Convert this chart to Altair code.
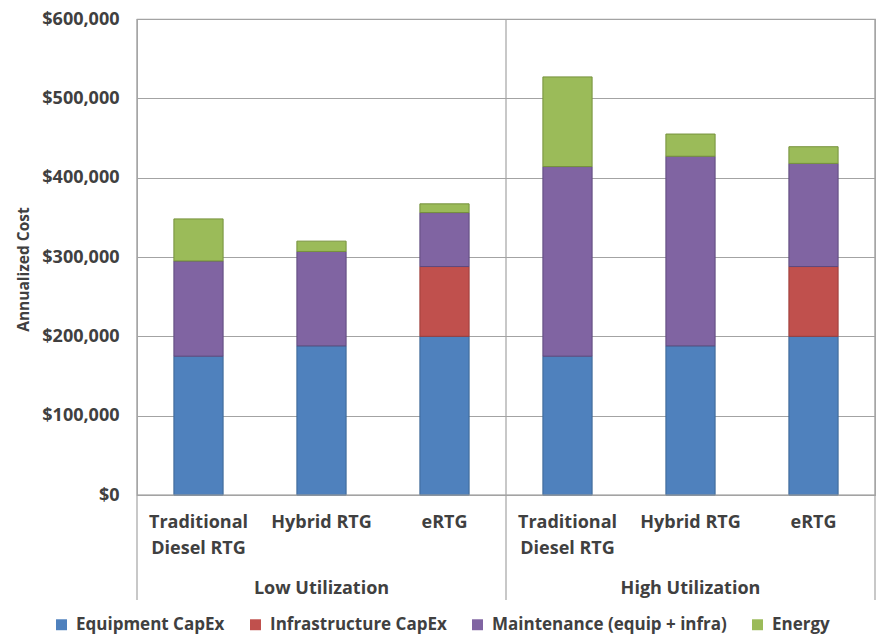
import altair as alt
import pandas as pd

groups = ["Low Utilization", "High Utilization"]
categories = ["Traditional Diesel RTG", "Hybrid RTG", "eRTG"]
series = ["Equipment CapEx", "Infrastructure CapEx", "Maintenance (equip + infra)", "Energy"]
colors = ["#4F81BD", "#C0504D", "#8064A2", "#9BBB59"]
edge_colors = ["#3C6796", "#9C3D3A", "#5F4A7E", "#76923C"]

# values per series, order: Low (Trad, Hybrid, eRTG), High (Trad, Hybrid, eRTG)
equipment = [175000, 188000, 200000, 175000, 188000, 200000]
infrastructure = [0, 0, 88000, 0, 0, 88000]
maintenance = [120000, 119000, 68000, 239000, 239000, 130000]
energy = [53000, 13000, 11000, 113000, 28000, 21000]
y_ticks = [0, 100000, 200000, 300000, 400000, 500000, 600000]

keys = [f"{g} · {c}" for g in groups for c in categories]
rows = []
for si, (s, vals) in enumerate(zip(series, [equipment, infrastructure, maintenance, energy])):
    for k, v in zip(keys, vals):
        rows.append({"key": k, "series": s, "order": si, "value": v})
df = pd.DataFrame(rows)

grp_df = pd.DataFrame({"key": [f"{g} · {categories[1]}" for g in groups], "label": groups})
left_edges = pd.DataFrame({"key": [keys[0], keys[3]]})
right_edge = pd.DataFrame({"key": [keys[-1]]})

FONT = "Open Sans"
TXT = "#404040"
GRID = "#A3A3A3"

label_expr = ("split(datum.value, ' · ')[1] == 'Traditional Diesel RTG' ? "
              "['Traditional', 'Diesel RTG'] : split(datum.value, ' · ')[1]")

xscale = alt.Scale(domain=keys, paddingInner=0, paddingOuter=0)

bars = alt.Chart(df).transform_filter("datum.value > 0").mark_bar(
    width={"band": 0.4}, strokeWidth=1
).encode(
    x=alt.X("key:N", scale=xscale, sort=keys, title=None,
            axis=alt.Axis(labelExpr=label_expr, labelAngle=0, labelFont=FONT,
                          labelFontWeight="bold", labelFontSize=18, labelColor=TXT,
                          labelLineHeight=26, labelPadding=18, ticks=False,
                          domain=False, labelBaseline="top")),
    y=alt.Y("value:Q", stack="zero", title="Annualized Cost",
            scale=alt.Scale(domain=[0, 600000]),
            axis=alt.Axis(values=y_ticks, format="$,.0f", labelFont=FONT,
                          labelFontWeight="bold", labelFontSize=18, labelColor=TXT,
                          ticks=False, domain=False, labelPadding=18,
                          grid=True, gridColor=GRID, gridWidth=1.2,
                          titleFont=FONT, titleFontWeight="bold", titleFontSize=15.5,
                          titleColor=TXT, titlePadding=10, titleY=250)),
    color=alt.Color("series:N", scale=alt.Scale(domain=series, range=colors),
                    legend=alt.Legend(title=None, orient="none", legendX=-84, legendY=597,
                                      direction="horizontal", symbolType="square",
                                      symbolSize=120, symbolStrokeWidth=0,
                                      labelFont=FONT, labelFontWeight="bold",
                                      labelFontSize=17, labelColor=TXT, labelLimit=0,
                                      columnPadding=22, labelOffset=6)),
    stroke=alt.Stroke("series:N", scale=alt.Scale(domain=series, range=edge_colors), legend=None),
    order=alt.Order("order:Q", sort="ascending"),
)

group_text = alt.Chart(grp_df).mark_text(
    font=FONT, fontWeight="bold", fontSize=18, color=TXT, baseline="middle", align="center"
).encode(
    x=alt.X("key:N", scale=xscale, sort=keys),
    y=alt.value(570),
    text="label:N",
)

rule_left = alt.Chart(left_edges).mark_rule(color=GRID, strokeWidth=1.2).encode(
    x=alt.X("key:N", scale=xscale, sort=keys, bandPosition=0),
    y=alt.value(0), y2=alt.value(581),
)
rule_right = alt.Chart(right_edge).mark_rule(color=GRID, strokeWidth=1.2).encode(
    x=alt.X("key:N", scale=xscale, sort=keys, bandPosition=1),
    y=alt.value(0), y2=alt.value(581),
)
bottom_rule = alt.Chart(left_edges.head(1)).mark_rule(color=GRID, strokeWidth=1.2).encode(
    y=alt.datum(0), x=alt.value(0), x2=alt.value(738),
)

chart = alt.layer(bars, rule_left, rule_right, bottom_rule, group_text).properties(
    width=738, height=476,
    autosize=alt.AutoSizeParams(type="none"),
    padding={"left": 137, "top": 19, "right": 4, "bottom": 141},
    background="white",
).configure_view(stroke=GRID, strokeWidth=1.2)

chart.save("out.html", embed_options={"renderer": "svg", "actions": False})
